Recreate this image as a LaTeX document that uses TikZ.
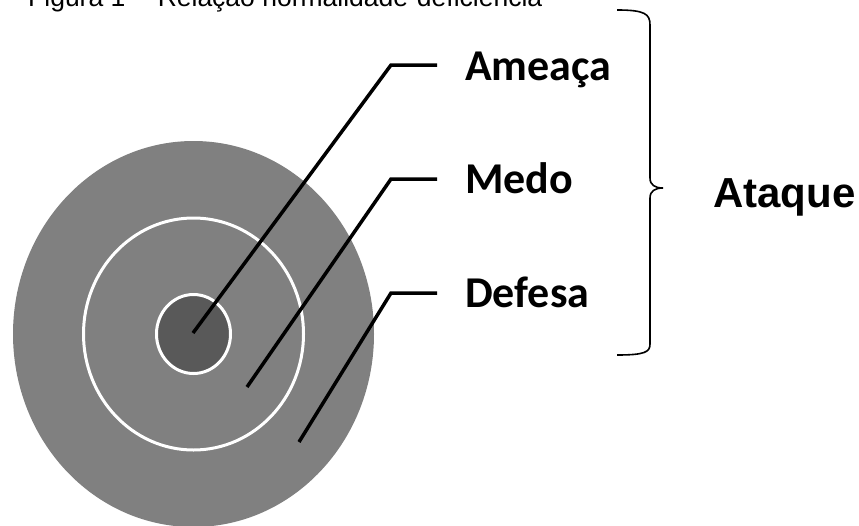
\documentclass[tikz,border=0pt]{standalone}
\usepackage{fontspec}
\newfontfamily\calibrifont{Carlito}
\newfontfamily\arialfont{Liberation Sans}
\begin{document}
\begin{tikzpicture}[x=1pt,y=-1pt,
  ring/.style={draw=white,line width=3pt},
  leader/.style={draw=black,line width=3.5pt,line cap=butt,line join=miter},
  lbl/.style={anchor=base west,inner sep=0pt,font=\calibrifont\bfseries\fontsize{44}{48}\selectfont},
  bracestyle/.style={draw=black,line width=1.6pt}]
\useasboundingbox (0,0) rectangle (859,525);
\clip (0,0) rectangle (859,525);
% title (cut off at top)
\node[anchor=base west,inner sep=0pt,font=\arialfont\fontsize{26.5}{30}\selectfont] (title) at (28,6) {Figura 1 -- Relação normalidade-deficiência};
% target
\fill[fill=gray!100!white,fill=black!50] (193.5,334) ellipse [x radius=180.5,y radius=193];
\draw[ring,fill=black!50] (193.5,334) ellipse [x radius=110,y radius=116];
\draw[ring,fill=black!65] (193.5,334) ellipse [x radius=37,y radius=39.5];
\coordinate (cA) at (193,333);
\coordinate (cM) at (247,387);
\coordinate (cD) at (299,442);
\coordinate (bA) at (391,65);
\coordinate (bM) at (391,179);
\coordinate (bD) at (391,293);
% labels
\node[lbl] (ameaca) at (465,80) {Ameaça};
\node[lbl] (medo) at (465,193) {Medo};
\node[lbl] (defesa) at (465,307) {Defesa};
\coordinate (eA) at (437,65);
\coordinate (eM) at (437,179);
\coordinate (eD) at (437,293);
\draw[leader] (cA) -- (bA) -- (eA);
\draw[leader] (cM) -- (bM) -- (eM);
\draw[leader] (cD) -- (bD) -- (eD);
% brace
\coordinate (brTop) at (617,10);
\coordinate (brTip) at (663,188);
\coordinate (brBot) at (617,355);
\draw[bracestyle] (brTop) .. controls (645,10) and (650,14) .. (650,25) -- (650,178)
  .. controls (650,185) and (655,188) .. (brTip)
  .. controls (655,188) and (650,191) .. (650,198) -- (650,344)
  .. controls (650,352) and (645,355) .. (brBot);
\node[anchor=base west,inner sep=0pt,font=\arialfont\bfseries\fontsize{42}{46}\selectfont] (ataque) at (713,207) {Ataque};
\end{tikzpicture}
\end{document}
